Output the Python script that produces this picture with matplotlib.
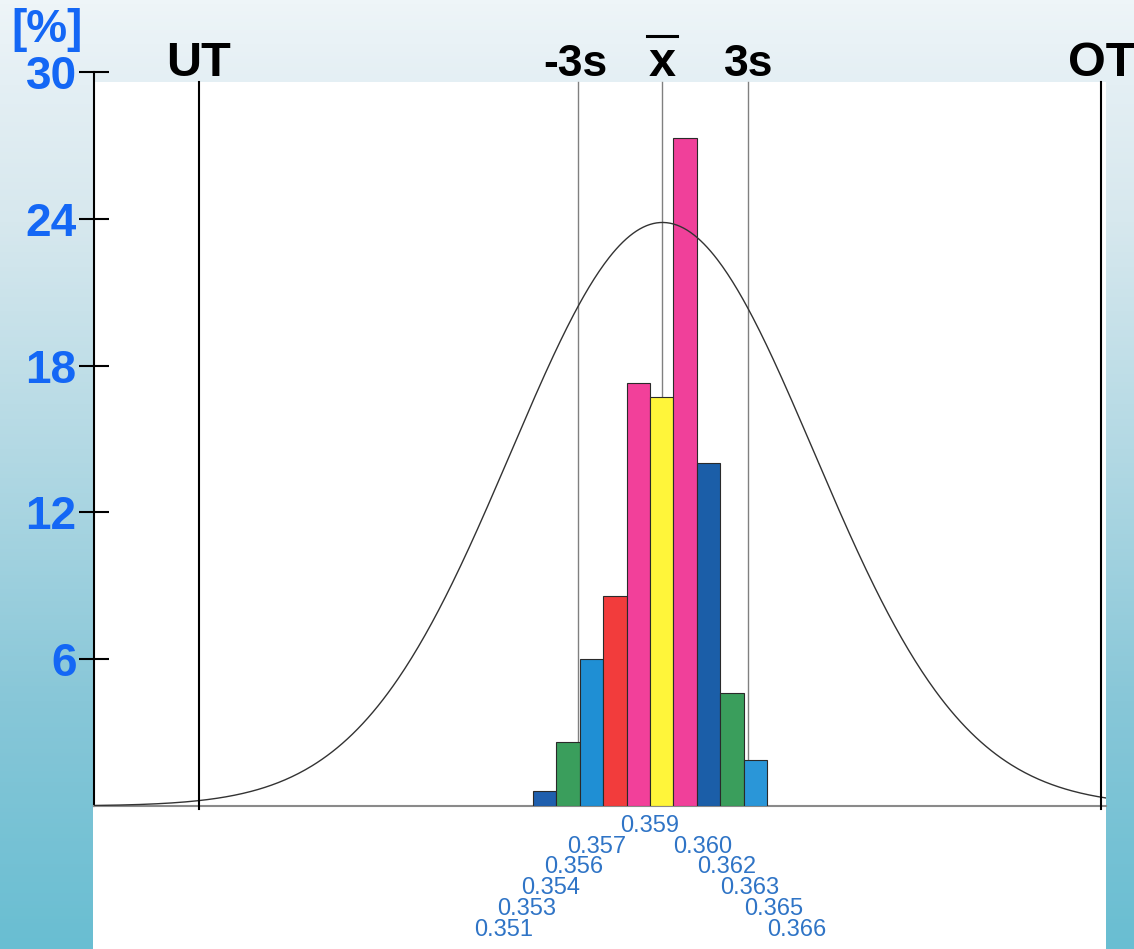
import numpy as np
from matplotlib import pyplot as plt
import matplotlib as mpl
from matplotlib.colors import LinearSegmentedColormap
from matplotlib.patches import Rectangle
from matplotlib.lines import Line2D
import matplotlib.transforms as mtransforms

# bin edges (measured value) and the class frequencies in %
bin_edges = [0.3510, 0.3525, 0.3540, 0.3555, 0.3570, 0.3585,
             0.3600, 0.3615, 0.3630, 0.3645, 0.3660]
edge_labels = ['0.351', '0.353', '0.354', '0.356', '0.357', '0.359',
               '0.360', '0.362', '0.363', '0.365', '0.366']
freq = [0.6, 2.6, 6.0, 8.6, 17.3, 16.7, 27.3, 14.0, 4.6, 1.9]
bar_colors = ['#1f5fae', '#3a9e5c', '#1f8fd4', '#f23c3c', '#f2409a',
              '#fff53a', '#f0409a', '#1b5ea8', '#3a9e5c', '#2a96d8']

# limits / statistics
x_mean = 0.3593
minus_3s = 0.3539
plus_3s = 0.3648
lower_tol = 0.3296   # UT
upper_tol = 0.3874   # OT
curve_sigma = 0.0097
curve_peak = 23.85

yticks = [6, 12, 18, 24, 30]

W, H = 1134, 949


def set_mpl():
    mpl.rcParams.update({
        'font.family': ['Liberation Sans', 'DejaVu Sans'],
        'figure.figsize': (W / 100, H / 100),
        'figure.dpi': 100,
        'savefig.dpi': 100,
    })


def plot_histogram():
    set_mpl()
    fig = plt.figure()

    # gradient background
    bg = fig.add_axes([0, 0, 1, 1], zorder=-2)
    stops = [(0, '#eef5f8'), (82 / H, '#e4eff4'), (220 / H, '#d7e8ee'),
             (450 / H, '#b3d9e4'), (700 / H, '#88c7d8'), (1, '#69bed2')]
    cmap = LinearSegmentedColormap.from_list('bg', stops)
    bg.imshow(np.linspace(0, 1, 256).reshape(-1, 1), aspect='auto', cmap=cmap,
              extent=[0, 1, 1, 0])
    bg.axis('off')

    # white paper
    fig.add_artist(Rectangle((93 / W, 0), (1106 - 93) / W, (H - 82) / H,
                             transform=fig.transFigure, facecolor='white',
                             edgecolor='none', zorder=-1))

    ax = fig.add_axes([94 / W, (H - 806) / H, (1106 - 94) / W, (806 - 72) / H])
    ax.set_facecolor('none')

    widths = np.diff(bin_edges)
    ax.bar(bin_edges[:-1], freq, width=widths, align='edge', color=bar_colors,
           edgecolor='#2a2a2a', linewidth=0.8, zorder=3)

    xs = np.linspace(0.3229, 0.3877, 600)
    ax.plot(xs, curve_peak * np.exp(-0.5 * ((xs - x_mean) / curve_sigma) ** 2),
            color='#333333', linewidth=1.0, zorder=4)

    top = (806 - 82) / (806 - 72)
    for xv in (lower_tol, upper_tol):
        ax.axvline(xv, ymin=-0.004, ymax=top, color='black', linewidth=1.5,
                   clip_on=False, zorder=5)
    for xv in (minus_3s, x_mean, plus_3s):
        ax.axvline(xv, ymin=0, ymax=top, color='#808080', linewidth=1.0, zorder=2)

    ax.set_xlim(0.3229, 0.3877)
    ax.set_ylim(0, 30)
    for s in ('top', 'right'):
        ax.spines[s].set_visible(False)
    ax.spines['left'].set_linewidth(1.5)
    ax.spines['bottom'].set_color('#8a8a8a')
    ax.spines['bottom'].set_linewidth(1.5)
    ax.set_xticks([])
    ax.set_yticks(yticks)
    # the top label sits a little lower than its tick, drawn by hand below
    ax.set_yticklabels([str(t) for t in yticks[:-1]] + [''])
    ax.tick_params(axis='y', direction='inout', length=22, width=1.5, pad=1.5,
                   labelsize=33, labelcolor='#1467f5')
    for lab in ax.get_yticklabels():
        lab.set_fontweight('bold')
    ax.annotate(str(yticks[-1]), xy=(0, yticks[-1]),
                xycoords=('axes fraction', 'data'), xytext=(-12.2, -3.6),
                textcoords='offset points', ha='right', va='center',
                fontsize=33, fontweight='bold', color='#1467f5',
                annotation_clip=False)

    # bin edge labels in a V shape
    for i, (xv, lab) in enumerate(zip(bin_edges, edge_labels)):
        if i < 5:
            lvl, ha = 5 - i, 'right'
        elif i == 5:
            lvl, ha = 0, 'center'
        else:
            lvl, ha = i - 5, 'left'
        ax.annotate(lab, xy=(xv, 0), xytext=(0, -14.2 - 15.0 * lvl),
                    textcoords='offset points', ha=ha, va='center',
                    fontsize=17, color='#2f74c6', annotation_clip=False)

    # labels on top
    trans = mtransforms.blended_transform_factory(ax.transData, fig.transFigure)
    yb = (H - 76) / H
    for xv, lab, fs in ((lower_tol, 'UT', 35), (upper_tol, 'OT', 35),
                        (minus_3s - 0.0002, '-3s', 32), (plus_3s, '3s', 32),
                        (x_mean, 'x', 35)):
        fig.text(xv, yb, lab, transform=trans, ha='center', va='baseline',
                 fontsize=fs, fontweight='bold', color='black')
    fig.add_artist(Line2D([x_mean - 0.00096, x_mean + 0.00096],
                          [(H - 36) / H, (H - 36) / H], transform=trans,
                          color='black', linewidth=2.2))

    fig.text(47 / W, (H - 30) / H, '[%]', ha='center', va='center',
             fontsize=33, fontweight='bold', color='#1467f5')

    plt.savefig('out.png')


if __name__ == "__main__":
    plot_histogram()
